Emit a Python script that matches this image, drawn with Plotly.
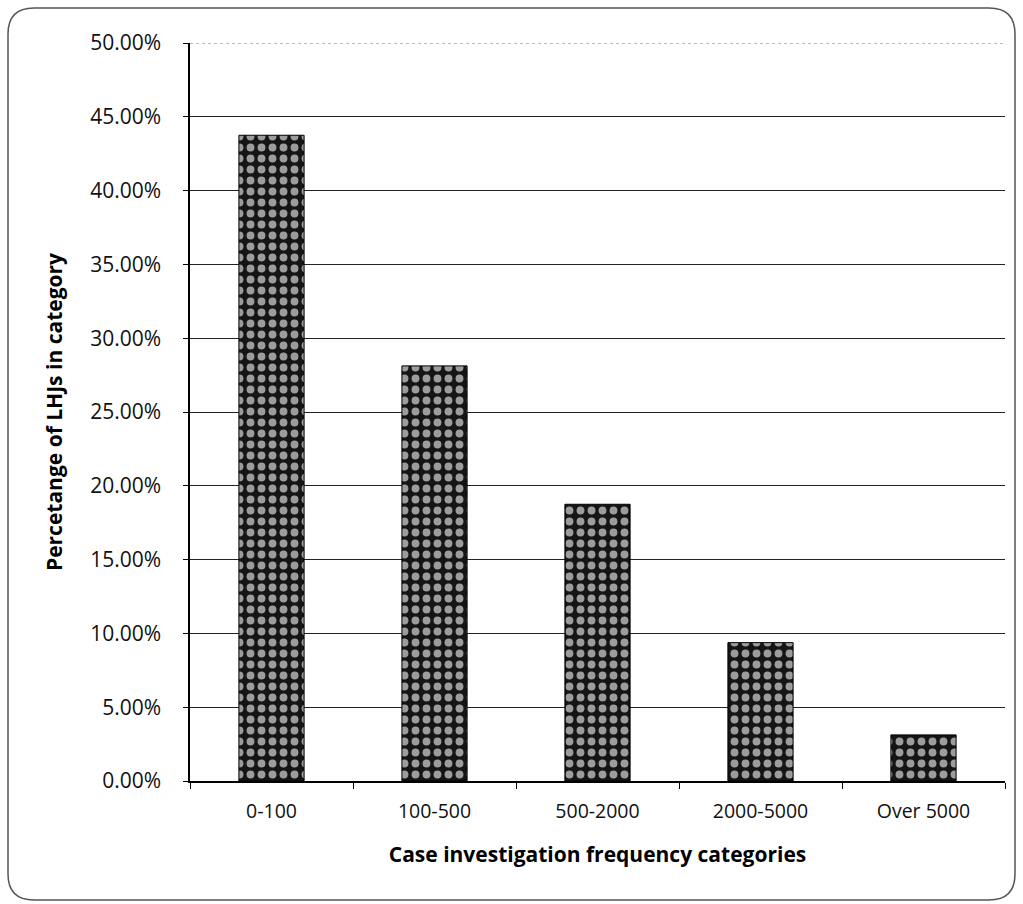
import plotly.graph_objects as go

# Share of local health jurisdictions by yearly case-investigation volume
categories = ["0-100", "100-500", "500-2000", "2000-5000", "Over 5000"]
percentages = [43.75, 28.125, 18.75, 9.375, 3.125]
y_ticks = [0, 5, 10, 15, 20, 25, 30, 35, 40, 45, 50]
y_tick_labels = [f"{v:.2f}%" for v in y_ticks]

W, H = 1023, 904
L, R, T, B = 190, 18, 43, 123
PW, PH = W - L - R, H - T - B


def px(x):
    return (x - L) / PW


def py(y):
    return (H - B - y) / PH


# Rounded frame around the whole chart
x0, x1, y0, y1, r = 8, 1015, 8, 900, 26
frame = (
    f"M {px(x0 + r)},{py(y0)} L {px(x1 - r)},{py(y0)} "
    f"Q {px(x1)},{py(y0)} {px(x1)},{py(y0 + r)} "
    f"L {px(x1)},{py(y1 - r)} Q {px(x1)},{py(y1)} {px(x1 - r)},{py(y1)} "
    f"L {px(x0 + r)},{py(y1)} Q {px(x0)},{py(y1)} {px(x0)},{py(y1 - r)} "
    f"L {px(x0)},{py(y0 + r)} Q {px(x0)},{py(y0)} {px(x0 + r)},{py(y0)} Z"
)

font_family = "Open Sans, Carlito, Calibri, sans-serif"

fig = go.Figure(
    go.Bar(
        x=categories,
        y=percentages,
        marker=dict(
            color="#151515",
            line=dict(color="#000000", width=1),
            pattern=dict(
                shape=".",
                fgcolor="#9c9c9c",
                bgcolor="#151515",
                size=11,
                solidity=0.4,
                fillmode="replace",
            ),
        ),
        hovertemplate="%{x}: %{y:.2f}%<extra></extra>",
    )
)

fig.update_layout(
    width=W,
    height=H,
    margin=dict(l=L, r=R, t=T, b=B, autoexpand=False),
    paper_bgcolor="white",
    plot_bgcolor="white",
    bargap=0.6,
    showlegend=False,
    font=dict(family=font_family, size=19, color="#111111"),
    shapes=[
        dict(
            type="path",
            path=frame,
            xref="paper",
            yref="paper",
            line=dict(color="#555555", width=1.5),
            fillcolor="rgba(0,0,0,0)",
            layer="below",
        ),
        # faint dotted line along the 50% top of the value range
        dict(
            type="line",
            xref="paper",
            yref="y",
            x0=0,
            x1=1,
            y0=y_ticks[-1],
            y1=y_ticks[-1],
            line=dict(color="#777777", width=1, dash="dot"),
            layer="below",
        ),
    ],
)

fig.update_xaxes(
    type="category",
    showline=True,
    linecolor="#000000",
    linewidth=1.5,
    ticks="outside",
    tickson="boundaries",
    ticklen=6,
    tickcolor="#000000",
    showgrid=False,
    ticklabelstandoff=12,
    tickfont=dict(size=19.5, color="#111111"),
    title=dict(
        text="<b>Case investigation frequency categories</b>",
        font=dict(size=21, color="#000000"),
        standoff=24,
    ),
    automargin=False,
)

fig.update_yaxes(
    range=[0, 50],
    tickvals=y_ticks,
    ticktext=y_tick_labels,
    showline=True,
    linecolor="#000000",
    linewidth=1.5,
    ticks="outside",
    ticklen=5,
    tickcolor="#000000",
    showgrid=True,
    gridcolor="#222222",
    gridwidth=1,
    zeroline=False,
    ticklabelstandoff=18,
    tickfont=dict(size=21, color="#111111"),
    title=dict(
        text="<b>Percetange of LHJs in category</b>",
        font=dict(size=21, color="#000000"),
        standoff=22,
    ),
    automargin=False,
)

fig.write_html("out.html")
